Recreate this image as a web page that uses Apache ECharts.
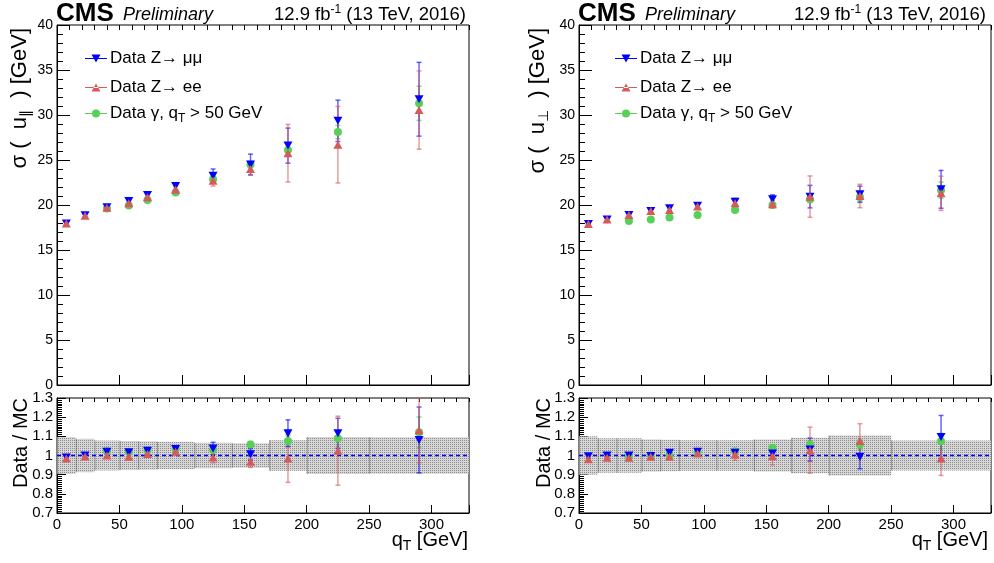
<!DOCTYPE html>
<html><head><meta charset="utf-8">
<script src="https://cdn.jsdelivr.net/npm/echarts@6/dist/echarts.min.js"></script>
<style>html,body{margin:0;padding:0;background:#fff}#c{width:994px;height:563px}</style>
</head><body><div id="c"></div>
<script>
// ---------------- data ----------------
const qT = [7.5, 22.5, 40, 57.5, 72.5, 95, 125, 155, 185, 225, 290];
const binEdges = [0, 15, 30, 50, 65, 80, 110, 140, 170, 200, 250, 330];
const xTicks = [0, 50, 100, 150, 200, 250, 300];

// sigma(u_par) [GeV]
const parMuMu     = [17.95, 18.85, 19.75, 20.45, 21.1, 22.1, 23.25, 24.5, 26.6, 29.35, 31.75];
const parMuMuErr  = [0.15, 0.2, 0.2, 0.25, 0.3, 0.35, 0.75, 1.15, 1.95, 2.3, 4.1];
const parEE       = [17.95, 18.8, 19.7, 20.2, 20.85, 21.7, 22.7, 24.0, 25.75, 26.7, 30.55];
const parEEErr    = [0.15, 0.2, 0.2, 0.25, 0.3, 0.35, 0.6, 0.7, 3.2, 4.25, 4.35];
const parGamma    = [null, null, 19.6, 19.95, 20.55, 21.4, 22.85, 24.5, 26.1, 28.1, 31.3];
const parGammaErr = [null, null, 0.1, 0.1, 0.1, 0.15, 0.2, 0.35, 0.6, 0.75, 1.9];

// ratio data/MC, u_par
const rParMuMu     = [0.99, 1.0, 1.02, 1.017, 1.025, 1.034, 1.037, 1.006, 1.116, 1.116, 1.081];
const rParMuMuErr  = [0.01, 0.01, 0.012, 0.012, 0.014, 0.015, 0.032, 0.03, 0.07, 0.078, 0.172];
const rParEE       = [0.985, 0.995, 1.0, 0.994, 1.008, 1.02, 0.99, 0.968, 0.985, 1.025, 1.13];
const rParEEErr    = [0.01, 0.01, 0.012, 0.012, 0.014, 0.016, 0.028, 0.03, 0.125, 0.18, 0.168];
const rParGamma    = [null, null, 1.022, 1.02, 1.027, 1.034, 1.03, 1.058, 1.076, 1.09, 1.121];
const rParGammaErr = [null, null, 0.005, 0.005, 0.006, 0.007, 0.01, 0.015, 0.025, 0.035, 0.08];
const bandParErr   = [0.096, 0.087, 0.078, 0.076, 0.074, 0.072, 0.066, 0.064, 0.08, 0.096, 0.095];

// sigma(u_perp) [GeV]
const perpMuMu     = [17.9, 18.4, 18.9, 19.33, 19.63, 19.93, 20.37, 20.63, 20.93, 21.19, 21.74];
const perpMuMuErr  = [0.15, 0.15, 0.2, 0.2, 0.25, 0.25, 0.35, 0.5, 1.25, 0.9, 2.1];
const perpEE       = [17.9, 18.4, 18.9, 19.33, 19.44, 19.82, 20.19, 20.07, 20.93, 21.0, 21.3];
const perpEEErr    = [0.15, 0.2, 0.2, 0.25, 0.25, 0.3, 0.55, 0.4, 2.3, 1.3, 1.9];
const perpGamma    = [null, null, 18.22, 18.4, 18.6, 18.9, 19.44, 20.0, 20.63, 20.9, 21.65];
const perpGammaErr = [null, null, 0.08, 0.08, 0.08, 0.1, 0.12, 0.2, 0.35, 0.5, 0.9];

// ratio data/MC, u_perp
const rPerpMuMu     = [0.996, 1.0, 1.0, 0.998, 1.015, 1.019, 1.015, 1.01, 1.031, 0.993, 1.097];
const rPerpMuMuErr  = [0.01, 0.01, 0.01, 0.01, 0.012, 0.013, 0.02, 0.03, 0.06, 0.062, 0.112];
const rPerpEE       = [0.98, 0.988, 0.988, 0.993, 0.993, 1.01, 1.005, 0.996, 1.028, 1.076, 0.984];
const rPerpEEErr    = [0.01, 0.01, 0.01, 0.01, 0.012, 0.013, 0.03, 0.045, 0.12, 0.09, 0.088];
const rPerpGamma    = [null, null, 0.993, 1.0, 1.0, 1.015, 1.022, 1.04, 1.057, 1.057, 1.075];
const rPerpGammaErr = [null, null, 0.005, 0.005, 0.006, 0.007, 0.01, 0.012, 0.02, 0.025, 0.04];
const bandPerpErr   = [0.1, 0.09, 0.09, 0.084, 0.082, 0.08, 0.08, 0.083, 0.092, 0.104, 0.078];

const refValue = 1;
const names = ['Data Z\u2192 \u03bc\u03bc', 'Data Z\u2192 ee', 'Data \u03b3, qT > 50 GeV'];

// ---------------- style ----------------
const FONT = '"Liberation Sans", Arial, Helvetica, sans-serif';
const BLUE = '#0000ff', RED = '#d65a5a', GREEN = '#56d056';
const BLUE_E = 'rgba(0,0,255,0.6)', RED_E = 'rgba(214,90,90,0.6)', GREEN_E = 'rgba(86,208,86,0.7)';
const DOWN_TRI = 'path://M0,0L10,0L5,9Z';

function makePattern() {
  const c = document.createElement('canvas'); c.width = 2; c.height = 2;
  const g = c.getContext('2d');
  g.fillStyle = '#d6d6d6'; g.fillRect(0, 0, 2, 2);
  g.fillStyle = '#8e8e8e'; g.fillRect(0, 0, 1, 1);
  return c;
}
const pattern = makePattern();

const grids = [
  {left: 57, top: 25, width: 412, height: 360},
  {left: 57, top: 398, width: 412, height: 115},
  {left: 579, top: 25, width: 412, height: 360},
  {left: 579, top: 398, width: 412, height: 115}
].map(g => Object.assign(g, {show: true, borderColor: '#000', borderWidth: 1, backgroundColor: 'transparent'}));

const xAxes = [];
[0, 1, 2, 3].forEach(gi => {
  const ratio = gi % 2 === 1;
  xAxes.push({
    type: 'value', gridIndex: gi, min: 0, max: 330, interval: 50,
    axisLine: {show: true, lineStyle: {color: '#000', width: 1}},
    axisTick: {show: true, inside: true, length: ratio ? 8 : 10, lineStyle: {color: '#000', width: 1}},
    axisLabel: {show: ratio, color: '#000', fontSize: 15, fontFamily: FONT, margin: 4,
      formatter: v => (xTicks.indexOf(v) >= 0 ? String(v) : '')},
    splitLine: {show: false}
  });
  xAxes.push({
    type: 'value', gridIndex: gi, min: 0, max: 330, interval: 10,
    axisLine: {show: false},
    axisTick: {show: true, inside: true, length: ratio ? 4 : 5, lineStyle: {color: '#000', width: 1}},
    axisLabel: {show: false}, splitLine: {show: false}
  });
});

const yAxes = [0, 1, 2, 3].map(gi => {
  const ratio = gi % 2 === 1;
  return {
    type: 'value', gridIndex: gi,
    min: ratio ? 0.7 : 0, max: ratio ? 1.3 : 40, interval: ratio ? 0.1 : 5,
    axisLine: {show: true, lineStyle: {color: '#000', width: 1}},
    axisTick: {show: true, inside: true, length: ratio ? 9 : 13, lineStyle: {color: '#000'}},
    minorTick: {show: true, splitNumber: ratio ? 10 : 5, length: ratio ? 5 : 6, lineStyle: {color: '#000'}},
    axisLabel: {color: '#000', fontSize: ratio ? 15 : 14, fontFamily: FONT, margin: 4,
      formatter: v => ratio ? (Math.abs(v - 1) < 1e-9 ? '1' : v.toFixed(1)) : String(v)},
    splitLine: {show: false}, minorSplitLine: {show: false}
  };
});

function pairs(vals) {
  const out = [];
  vals.forEach((v, i) => { if (v !== null) out.push([qT[i], v]); });
  return out;
}
function triples(vals, errs) {
  const out = [];
  vals.forEach((v, i) => { if (v !== null) out.push([qT[i], v, errs[i]]); });
  return out;
}
function errSeries(gi, vals, errs, color) {
  return {
    type: 'custom', xAxisIndex: gi * 2, yAxisIndex: gi, data: triples(vals, errs), clip: true, silent: true, z: 3,
    encode: {x: 0, y: 1},
    renderItem(params, api) {
      const x = api.value(0), y = api.value(1), e = api.value(2);
      const p1 = api.coord([x, y - e]), p2 = api.coord([x, y + e]);
      const cw = 2.5, st = {stroke: color, lineWidth: 1.5};
      return {type: 'group', children: [
        {type: 'line', shape: {x1: p1[0], y1: p1[1], x2: p2[0], y2: p2[1]}, style: st},
        {type: 'line', shape: {x1: p1[0] - cw, y1: p1[1], x2: p1[0] + cw, y2: p1[1]}, style: st},
        {type: 'line', shape: {x1: p2[0] - cw, y1: p2[1], x2: p2[0] + cw, y2: p2[1]}, style: st}
      ]};
    }
  };
}
function markSeries(gi, name, vals, kind) {
  const s = {type: 'scatter', name, xAxisIndex: gi * 2, yAxisIndex: gi, data: pairs(vals), z: 5, silent: true,
    itemStyle: {opacity: 1}};
  if (kind === 'mm') { s.symbol = DOWN_TRI; s.symbolSize = [9, 8]; s.itemStyle.color = BLUE; }
  if (kind === 'ee') { s.symbol = 'triangle'; s.symbolSize = [9, 8]; s.itemStyle.color = RED; }
  if (kind === 'g')  { s.symbol = 'circle'; s.symbolSize = 8; s.itemStyle.color = GREEN; }
  return s;
}
function bandSeries(gi, errs) {
  const data = errs.map((e, i) => [binEdges[i], binEdges[i + 1], e]);
  return {
    type: 'custom', xAxisIndex: gi * 2, yAxisIndex: gi, data, silent: true, z: 1,
    renderItem(params, api) {
      const x0 = api.value(0), x1 = api.value(1), e = api.value(2);
      const p0 = api.coord([x0, refValue + e]), p1 = api.coord([x1, refValue - e]);
      return {type: 'group', children: [
        {type: 'rect', shape: {x: p0[0], y: p0[1], width: p1[0] - p0[0], height: p1[1] - p0[1]},
          style: {fill: {image: pattern, repeat: 'repeat'}}},
        {type: 'line', shape: {x1: p0[0] + 0.5, y1: p0[1], x2: p0[0] + 0.5, y2: p1[1]},
          style: {stroke: 'rgba(70,70,70,0.5)', lineWidth: 1}}
      ]};
    }
  };
}
function refSeries(gi) {
  return {type: 'line', xAxisIndex: gi * 2, yAxisIndex: gi, data: [[0, refValue], [330, refValue]],
    symbol: 'none', silent: true, z: 2, lineStyle: {color: BLUE, width: 1.5, type: [4, 3]}};
}

function panelSeries(gTop, gRat, top, rat, band) {
  return [
    errSeries(gTop, top[4], top[5], GREEN_E), errSeries(gTop, top[0], top[1], BLUE_E), errSeries(gTop, top[2], top[3], RED_E),
    markSeries(gTop, names[2], top[4], 'g'), markSeries(gTop, names[0], top[0], 'mm'), markSeries(gTop, names[1], top[2], 'ee'),
    bandSeries(gRat, band), refSeries(gRat),
    errSeries(gRat, rat[4], rat[5], GREEN_E), errSeries(gRat, rat[0], rat[1], BLUE_E), errSeries(gRat, rat[2], rat[3], RED_E),
    markSeries(gRat, names[2], rat[4], 'g'), markSeries(gRat, names[0], rat[0], 'mm'), markSeries(gRat, names[1], rat[2], 'ee')
  ];
}
const series = [].concat(
  panelSeries(0, 1, [parMuMu, parMuMuErr, parEE, parEEErr, parGamma, parGammaErr],
    [rParMuMu, rParMuMuErr, rParEE, rParEEErr, rParGamma, rParGammaErr], bandParErr),
  panelSeries(2, 3, [perpMuMu, perpMuMuErr, perpEE, perpEEErr, perpGamma, perpGammaErr],
    [rPerpMuMu, rPerpMuMuErr, rPerpEE, rPerpEEErr, rPerpGamma, rPerpGammaErr], bandPerpErr)
);

const icons = [
  'path://M0,4.4H22V5.6H0Z M6.5,1H15.5L11,9Z',
  'path://M0,4.4H22V5.6H0Z M6.5,9H15.5L11,1Z',
  'path://M0,4.4H22V5.6H0Z M7,5A4,4 0 1 1 15,5A4,4 0 1 1 7,5Z'
];
const rowY = [61, 90, 116];
const legends = [];
[85, 615].forEach(lx => {
  names.forEach((n, k) => {
    legends.push({
      data: [n], left: lx, top: rowY[k] - 11, orient: 'horizontal', padding: 0, itemGap: 0,
      itemWidth: 22, itemHeight: 10, icon: icons[k], selectedMode: false, symbolRotate: 0,
      textStyle: {fontSize: 17, color: '#000', fontFamily: FONT, padding: [0, 0, 0, -2],
        rich: {a: {fontSize: 17, fontFamily: FONT, color: '#000'},
               s: {fontSize: 12, fontFamily: FONT, color: '#000', padding: [10, 0, 0, 0]}}},
      formatter: name => k === 2 ? '{a|Data \u03b3, q}{s|T}{a| > 50 GeV}' : '{a|' + name + '}'
    });
  });
});

function txt(x, y, text, style, rot) {
  return {type: 'text', x, y, rotation: rot || 0, silent: true,
    style: Object.assign({text, fill: '#000', fontFamily: FONT}, style)};
}
const richSub = {
  a: {fontSize: 20, fontFamily: FONT, fill: '#000'},
  y: {fontSize: 22, fontFamily: FONT, fill: '#000'},
  s: {fontSize: 14, fontFamily: FONT, fill: '#000', padding: [12, 0, 0, 0]},
  p: {fontSize: 12, fontFamily: FONT, fill: '#000', padding: [0, 0, 10, 0]},
  b: {fontSize: 18.5, fontFamily: FONT, fill: '#000'}
};
const graphics = [];
[[57, 466, 20, 21], [579, 986, 538, 544]].forEach(([fl, tr, ylx, rlx], idx) => {
  graphics.push(txt(fl - 1, 14, 'CMS', {fontSize: 26, fontWeight: 'bold', align: 'left', verticalAlign: 'middle'}));
  graphics.push(txt(fl + 66, 15, 'Preliminary', {fontSize: 18, fontStyle: 'italic', align: 'left', verticalAlign: 'middle'}));
  graphics.push(txt(tr, 15, '{b|12.9 fb}{p|-1}{b| (13 TeV, 2016)}', {align: 'right', verticalAlign: 'middle', rich: richSub}));
  graphics.push(txt(ylx, 28, idx === 0 ? '{y|\u03c3 (  u}{s|\u2225}{y|  ) [GeV]}' : '{y|\u03c3 (  u}{s|\u22a5}{y|  ) [GeV]}',
    {align: 'right', verticalAlign: 'middle', rich: richSub}, Math.PI / 2));
  graphics.push(txt(rlx, 398, 'Data / MC', {fontSize: 20, align: 'right', verticalAlign: 'middle'}, Math.PI / 2));
  graphics.push(txt(tr + 2, 540, '{a|q}{s|T}{a| [GeV]}', {align: 'right', verticalAlign: 'middle', rich: richSub}));
});

const chart = echarts.init(document.getElementById('c'), null, {renderer: 'canvas'});
chart.setOption({
  animation: false,
  backgroundColor: '#fff',
  grid: grids,
  xAxis: xAxes,
  yAxis: yAxes,
  legend: legends,
  series,
  graphic: graphics
});
</script>
</body></html>
